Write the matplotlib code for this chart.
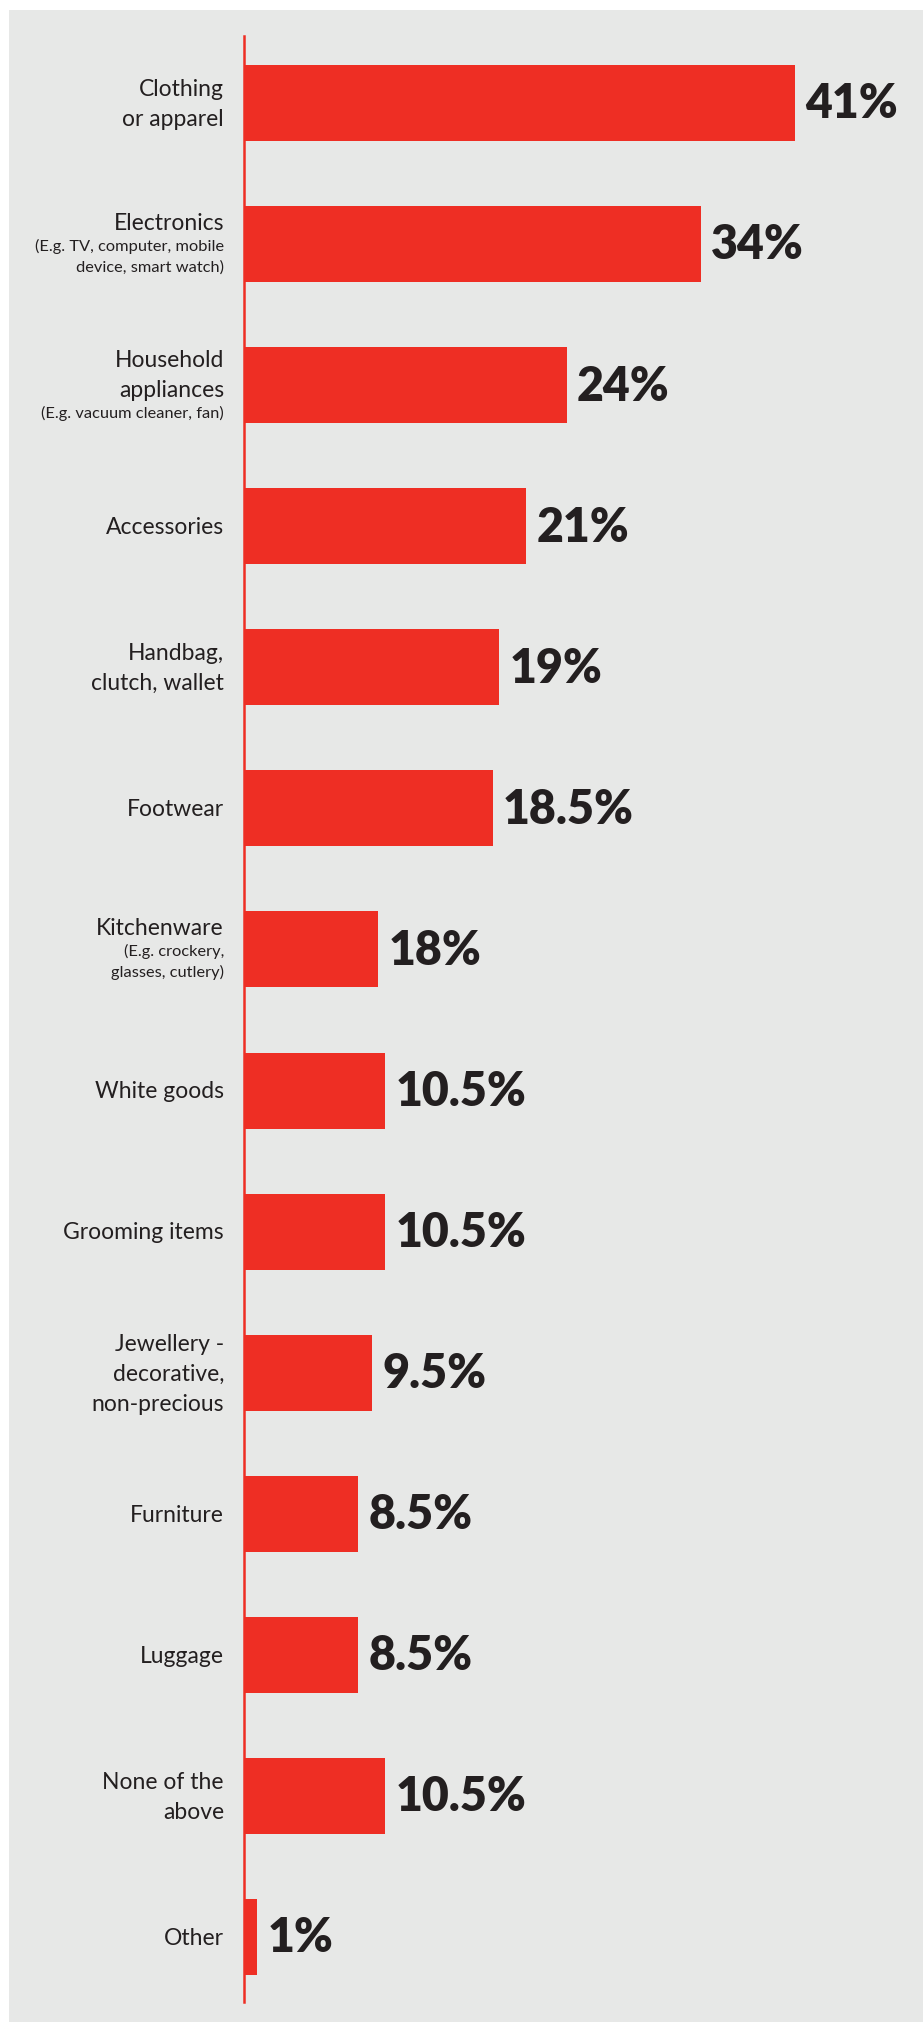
import matplotlib.pyplot as plt
from matplotlib.patches import Rectangle

# main label lines and the small "(E.g. ...)" lines under them
categories = ["Clothing\nor apparel", "Electronics", "Household\nappliances",
              "Accessories", "Handbag,\nclutch, wallet", "Footwear",
              "Kitchenware", "White goods", "Grooming items",
              "Jewellery -\ndecorative,\nnon-precious", "Furniture", "Luggage",
              "None of the\nabove", "Other"]
sub_labels = ["", "(E.g. TV, computer, mobile\ndevice, smart watch)",
              "(E.g. vacuum cleaner, fan)", "", "", "",
              "(E.g. crockery,\nglasses, cutlery)", "", "", "", "", "", "", ""]
# bar lengths as drawn (kitchenware bar is drawn shorter than its label)
bar_values = [41, 34, 24, 21, 19, 18.5, 10, 10.5, 10.5, 9.5, 8.5, 8.5, 10.5, 1]
value_labels = ["41%", "34%", "24%", "21%", "19%", "18.5%", "18%", "10.5%",
                "10.5%", "9.5%", "8.5%", "8.5%", "10.5%", "1%"]

RED = "#ee2e24"
BG = "#e7e8e7"
INK = "#231f20"

W, H = 923, 2022
fig = plt.figure(figsize=(W / 100, H / 100), dpi=100)
fig.patch.set_facecolor("white")
fig.patches.append(Rectangle((9 / W, 0), 1, 1 - 10 / H, transform=fig.transFigure,
                             facecolor=BG, edgecolor="none", zorder=-10))

ax = fig.add_axes([244 / W, 20 / H, 1 - 244 / W, (2002 - 36) / H])
ax.set_zorder(5)
ax.set_facecolor("none")
ypos = list(range(len(categories)))
ax.barh(ypos, bar_values, height=76 / 141, color=RED, zorder=2)
ax.set_xlim(0, (W - 244) / 13.44)
ax.set_ylim(13.461, -0.475)
for s in ["top", "right", "bottom"]:
    ax.spines[s].set_visible(False)
ax.spines["left"].set_color(RED)
ax.spines["left"].set_linewidth(1.8)
ax.set_xticks([])
ax.set_yticks([])

fm, fs = 16.5, 11.8
main_step, sub_step, gap_step = 21.6, 15.1, 16.6

for i, (cat, sub) in enumerate(zip(categories, sub_labels)):
    lines = [(t, fm) for t in cat.split("\n")]
    if sub:
        lines += [(t, fs) for t in sub.split("\n")]
    # offsets between successive line centres
    steps = []
    for k in range(1, len(lines)):
        a, b = lines[k - 1][1], lines[k][1]
        steps.append(main_step if a == b == fm else sub_step if a == b == fs else gap_step)
    total = sum(steps)
    y = total / 2
    for k, (t, size) in enumerate(lines):
        if k > 0:
            y -= steps[k - 1]
        ax.annotate(t, xy=(0, i), xytext=(-14.4, y - 1), textcoords="offset points",
                    ha="right", va="center", fontsize=size, color=INK,
                    family="Lato", annotation_clip=False)

for i, (v, lab) in enumerate(zip(bar_values, value_labels)):
    ax.annotate(lab, xy=(v, i), xytext=(7.5, -1), textcoords="offset points",
                ha="left", va="center", fontsize=33.5, color=INK,
                family="Lato", fontweight="heavy")

fig.savefig("out.png", dpi=100)
